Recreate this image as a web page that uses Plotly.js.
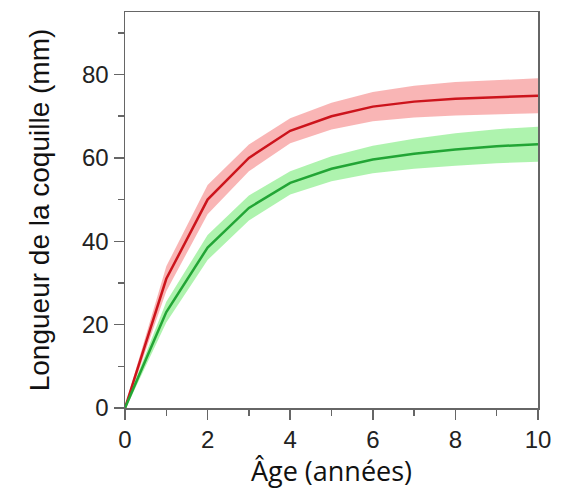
<!DOCTYPE html>
<html>
<head>
<meta charset="utf-8">
<script src="https://cdn.plot.ly/plotly-3.0.1.min.js"></script>
<style>html,body{margin:0;padding:0;background:#fff;}#chart{width:569px;height:489px;}</style>
</head>
<body>
<div id="chart"></div>
<script>
const ages = [0, 1, 2, 3, 4, 5, 6, 7, 8, 9, 10];
const redMean  = [0, 31, 50, 60, 66.5, 70, 72.3, 73.5, 74.2, 74.6, 74.9];
const redUpper = [0.5, 34, 53.5, 63.2, 69.5, 73.2, 75.8, 77.3, 78.2, 78.7, 79.1];
const redLower = [-0.5, 28, 46.5, 56.8, 63.5, 66.8, 68.8, 69.7, 70.2, 70.5, 70.7];
const greenMean  = [0, 23, 38.5, 48, 54, 57.4, 59.6, 61, 62, 62.8, 63.3];
const greenUpper = [0.5, 25.5, 41.5, 51, 56.8, 60.4, 62.9, 64.6, 65.9, 66.9, 67.5];
const greenLower = [-0.5, 20.5, 35.5, 45, 51.2, 54.4, 56.3, 57.4, 58.1, 58.7, 59.1];
const xTicks = [0, 2, 4, 6, 8, 10];
const yTicks = [0, 20, 40, 60, 80];

function band(upper, lower, fill) {
  return [
    {x: ages, y: upper, mode: 'lines', line: {width: 0}, hoverinfo: 'skip', showlegend: false},
    {x: ages, y: lower, mode: 'lines', line: {width: 0}, fill: 'tonexty', fillcolor: fill, hoverinfo: 'skip', showlegend: false}
  ];
}

const data = [
  ...band(redUpper, redLower, 'rgba(246,150,150,0.7)'),
  ...band(greenUpper, greenLower, 'rgba(140,238,140,0.7)'),
  {x: ages, y: redMean, mode: 'lines', line: {color: '#cc141c', width: 2.5}, showlegend: false},
  {x: ages, y: greenMean, mode: 'lines', line: {color: '#22a535', width: 2.5}, showlegend: false}
];

const axisCommon = {
  showline: true, linecolor: '#666', linewidth: 1.5, mirror: true,
  showgrid: false, zeroline: false,
  ticks: 'outside', ticklen: 10, tickwidth: 1.5, tickcolor: '#666',
  tickfont: {family: 'Liberation Sans, Arial, sans-serif', size: 24, color: '#222'}
};

const layout = {
  width: 569, height: 489,
  margin: {l: 125, r: 31, t: 12, b: 81},
  paper_bgcolor: '#fff', plot_bgcolor: '#fff',
  xaxis: Object.assign({}, axisCommon, {
    range: [0, 10], tickmode: 'array', tickvals: xTicks,
    minor: {dtick: 1, ticks: 'outside', ticklen: 6, tickwidth: 1.5, tickcolor: '#666'},
    title: {text: 'Âge (années)', font: {family: 'Open Sans, Lato, sans-serif', size: 27, color: '#111'}, standoff: 5}
  }),
  yaxis: Object.assign({}, axisCommon, {
    range: [0, 95], tickmode: 'array', tickvals: yTicks,
    minor: {dtick: 10, ticks: 'outside', ticklen: 6, tickwidth: 1.5, tickcolor: '#666'},
    title: {text: 'Longueur de la coquille (mm)', font: {family: 'Liberation Sans, Arial, sans-serif', size: 28, color: '#111'}, standoff: 24}
  })
};

Plotly.newPlot('chart', data, layout, {displayModeBar: false, staticPlot: true});
</script>
</body>
</html>
